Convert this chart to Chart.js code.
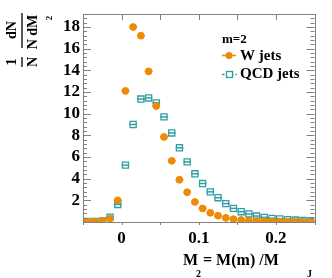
<!DOCTYPE html>
<html>
<head>
<meta charset="utf-8">
<script src="https://cdn.jsdelivr.net/npm/chart.js@4.4.1/dist/chart.umd.min.js"></script>
<style>
  html, body { margin: 0; padding: 0; background: #fff; }
  #wrap { width: 332px; height: 278px; position: relative; }
</style>
</head>
<body>
<div id="wrap"><canvas id="myChart"></canvas></div>
<script>
// bin centres of M2 (bin width 0.01)
const binCenters = [-0.045, -0.035, -0.025, -0.015, -0.005, 0.005, 0.015, 0.025, 0.035, 0.045,
  0.055, 0.065, 0.075, 0.085, 0.095, 0.105, 0.115, 0.125, 0.135, 0.145,
  0.155, 0.165, 0.175, 0.185, 0.195, 0.205, 0.215, 0.225, 0.235, 0.245];
const wJets = [0.05, 0.05, 0.1, 0.3, 2.0, 12.1, 18.0, 17.2, 13.9, 10.7,
  7.85, 5.65, 3.9, 2.75, 1.85, 1.25, 0.85, 0.58, 0.38, 0.26,
  0.19, 0.14, 0.1, 0.08, 0.06, 0.05, 0.04, 0.03, 0.03, 0.02];
const qcdJets = [0.05, 0.05, 0.1, 0.45, 1.62, 5.25, 9.0, 11.35, 11.45, 11.0,
  9.7, 8.22, 6.85, 5.55, 4.45, 3.55, 2.78, 2.24, 1.7, 1.26,
  0.95, 0.74, 0.55, 0.43, 0.34, 0.28, 0.22, 0.18, 0.15, 0.12];
const binHalfWidth = 0.005;

const xTicks = [0, 0.1, 0.2];
const xMinorTicks = [-0.05, 0.05, 0.15, 0.25];
const yTicks = [2, 4, 6, 8, 10, 12, 14, 16, 18];

const orange = '#ef8a05';
const teal = '#2f9fa4';
const frameColor = '#808080';
const serif = '"Liberation Serif", "DejaVu Serif", serif';

function toPoints(ys) {
    return binCenters.map((x, i) => ({ x: x, y: ys[i] }));
}

// horizontal bars (bin width) behind the markers
const binBars = {
    id: 'binBars',
    beforeDatasetsDraw(chart) {
        const ctx = chart.ctx;
        const xs = chart.scales.x, ys = chart.scales.y;
        ctx.save();
        chart.data.datasets.forEach(ds => {
            ctx.strokeStyle = ds.borderColor;
            ctx.lineWidth = 1.5;
            ds.data.forEach(p => {
                const y = ys.getPixelForValue(p.y);
                ctx.beginPath();
                ctx.moveTo(xs.getPixelForValue(p.x - binHalfWidth), y);
                ctx.lineTo(xs.getPixelForValue(p.x + binHalfWidth), y);
                ctx.stroke();
            });
        });
        ctx.restore();
    }
};

// ROOT-like frame, ticks, titles and legend
const rootStyle = {
    id: 'rootStyle',
    afterDraw(chart) {
        const ctx = chart.ctx;
        const a = chart.chartArea;
        const xs = chart.scales.x, ys = chart.scales.y;
        ctx.save();
        ctx.strokeStyle = frameColor;
        ctx.lineWidth = 1;
        ctx.strokeRect(Math.round(a.left) + 0.5, Math.round(a.top) + 0.5,
            Math.round(a.right - a.left), Math.round(a.bottom - a.top));

        ctx.beginPath();
        // y ticks, inward on both sides
        for (let v = 0; v <= ys.max + 1e-9; v += 0.4) {
            const major = Math.abs(v / 2 - Math.round(v / 2)) < 1e-6;
            const len = major ? 8 : 4;
            const y = Math.round(ys.getPixelForValue(v)) + 0.5;
            ctx.moveTo(a.left, y); ctx.lineTo(a.left + len, y);
            ctx.moveTo(a.right, y); ctx.lineTo(a.right - len, y);
        }
        // x ticks
        xTicks.concat(xMinorTicks).forEach(v => {
            const x = Math.round(xs.getPixelForValue(v)) + 0.5;
            ctx.moveTo(x, a.top); ctx.lineTo(x, a.top + 6);
            ctx.moveTo(x, a.bottom); ctx.lineTo(x, a.bottom + 3);
        });
        ctx.stroke();

        // x title
        ctx.fillStyle = '#000';
        ctx.textBaseline = 'alphabetic';
        ctx.textAlign = 'left';
        ctx.font = 'bold 16px ' + serif;
        ctx.fillText('M', 183, 265);
        ctx.fillText('= M(m) /M', 203, 265);
        ctx.font = 'bold 10px ' + serif;
        ctx.fillText('2', 196, 277);
        ctx.fillText('J', 307, 277);

        // y title: 1/N dN/dM2, rotated
        ctx.save();
        ctx.translate(22, 0);
        ctx.rotate(-Math.PI / 2);
        ctx.font = 'bold 14px ' + serif;
        ctx.textAlign = 'center';
        ctx.textBaseline = 'middle';
        ctx.fillText('1', -62, -10);
        ctx.fillText('N', -62, 11);
        ctx.fillText('dN', -30, -10);
        ctx.fillText('N dM', -32, 11);
        ctx.font = 'bold 9px ' + serif;
        ctx.fillText('2', -18, 28);
        ctx.strokeStyle = '#000';
        ctx.lineWidth = 1.3;
        ctx.beginPath();
        ctx.moveTo(-67, 0); ctx.lineTo(-57, 0);
        ctx.moveTo(-48, 0); ctx.lineTo(-13, 0);
        ctx.stroke();
        ctx.restore();

        // legend
        ctx.textAlign = 'left';
        ctx.textBaseline = 'middle';
        ctx.font = 'bold 13px ' + serif;
        ctx.fillText('m=2', 222, 40);
        ctx.font = 'bold 15px ' + serif;
        ctx.fillText('W jets', 240, 56);
        ctx.fillText('QCD jets', 240, 74);

        ctx.lineWidth = 1.5;
        ctx.strokeStyle = orange;
        ctx.beginPath();
        ctx.moveTo(222, 55.5); ctx.lineTo(236, 55.5);
        ctx.stroke();
        ctx.fillStyle = orange;
        ctx.beginPath();
        ctx.arc(229, 55.5, 3.5, 0, Math.PI * 2);
        ctx.fill();

        ctx.strokeStyle = teal;
        ctx.setLineDash([2.5, 2]);
        ctx.beginPath();
        ctx.moveTo(222, 74.5); ctx.lineTo(237, 74.5);
        ctx.stroke();
        ctx.setLineDash([]);
        ctx.fillStyle = '#fff';
        ctx.fillRect(226.5, 71.5, 6, 6);
        ctx.lineWidth = 1.3;
        ctx.strokeRect(226.5, 71.5, 6, 6);
        ctx.restore();
    }
};

var ctx = document.getElementById('myChart').getContext('2d');
var myChart = new Chart(ctx, {
    type: 'scatter',
    data: {
        datasets: [{
            label: 'W jets',
            data: toPoints(wJets),
            pointStyle: 'circle',
            pointRadius: 3.4,
            backgroundColor: orange,
            borderColor: orange,
            borderWidth: 1
        }, {
            label: 'QCD jets',
            data: toPoints(qcdJets),
            pointStyle: 'rect',
            pointRadius: 4.3,
            backgroundColor: 'rgba(255,255,255,0)',
            borderColor: teal,
            borderWidth: 1.3
        }]
    },
    options: {
        responsive: true,
        maintainAspectRatio: false,
        animation: false,
        events: [],
        layout: { padding: { left: 0, top: 14, right: 17.5, bottom: 0 } },
        plugins: { legend: { display: false }, tooltip: { enabled: false } },
        scales: {
            x: {
                type: 'linear',
                min: -0.05,
                max: 0.25,
                afterBuildTicks: s => { s.ticks = xTicks.map(v => ({ value: v })); },
                afterFit: s => { s.height = 56; },
                grid: { display: false, drawTicks: false },
                border: { display: false },
                ticks: {
                    padding: 6,
                    color: '#000',
                    font: { family: serif, size: 17, weight: 'bold' },
                    maxRotation: 0,
                    callback: v => String(v)
                }
            },
            y: {
                type: 'linear',
                min: 0,
                max: 19.2,
                afterBuildTicks: s => { s.ticks = yTicks.map(v => ({ value: v })); },
                afterFit: s => { s.width = 83; },
                grid: { display: false, drawTicks: false },
                border: { display: false },
                ticks: {
                    padding: 3,
                    color: '#000',
                    font: { family: serif, size: 17, weight: 'bold' },
                    callback: v => String(v)
                }
            }
        }
    },
    plugins: [binBars, rootStyle]
});
</script>
</body>
</html>
